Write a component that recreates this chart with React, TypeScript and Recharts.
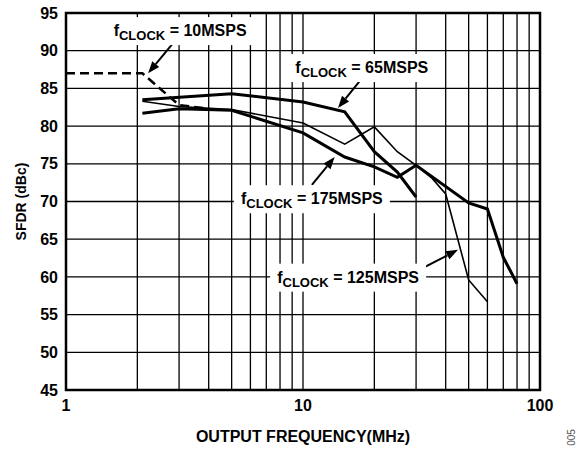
import { LineChart, Line, XAxis, YAxis, CartesianGrid, ReferenceArea, ReferenceDot, ReferenceLine } from "recharts";

// axis ticks
const freqTicks = [1, 2, 3, 4, 5, 6, 7, 8, 9, 10, 20, 30, 40, 50, 60, 70, 80, 90, 100];
const freqLabels = [1, 10, 100];
const sfdrTicks = [45, 50, 55, 60, 65, 70, 75, 80, 85, 90, 95];

// fCLOCK = 10MSPS (dashed)
const freq10 = [1, 2.1, 3, 4];
const sfdr10 = [87, 87, 82.8, 82.3];
// fCLOCK = 65MSPS
const freq65 = [2.1, 5, 10, 15, 20, 25, 30];
const sfdr65 = [83.5, 84.3, 83.2, 81.9, 76.6, 73.9, 70.6];
// fCLOCK = 125MSPS
const freq125 = [2.1, 3, 5, 10, 15, 20, 25, 30, 35, 40, 50, 60];
const sfdr125 = [83.3, 82.6, 82.2, 80.4, 77.6, 79.9, 76.6, 74.8, 73.1, 71.0, 59.6, 56.7];
// fCLOCK = 175MSPS
const freq175 = [2.1, 3, 5, 10, 15, 20, 25, 30, 50, 60, 70, 80];
const sfdr175 = [81.7, 82.3, 82.1, 79.1, 75.9, 74.6, 73.2, 74.8, 69.8, 69.0, 62.6, 59.1];

const toRows = (fs: number[], vs: number[]) => fs.map((f, i) => ({ f, v: vs[i] }));

const FONT = "'Liberation Sans', Arial, sans-serif";

function Callout(props: any) {
  const { cx, cy, value, w } = props;
  return (
    <g>
      <rect x={cx - w / 2} y={cy - 14} width={w} height={28} fill="#fff" />
      <text x={cx} y={cy + 5} textAnchor="middle" fontFamily={FONT} fontWeight="bold" fontSize={16} fill="#000">
        f
        <tspan fontSize={13} dy={4}>CLOCK</tspan>
        <tspan dy={-4}>{` = ${value}`}</tspan>
      </text>
    </g>
  );
}

function Arrow(props: any) {
  const { x1, y1, x2, y2 } = props;
  const dx = x2 - x1;
  const dy = y2 - y1;
  const len = Math.sqrt(dx * dx + dy * dy) || 1;
  const ux = dx / len;
  const uy = dy / len;
  const head = 12;
  const half = 4.5;
  const bx = x2 - ux * head;
  const by = y2 - uy * head;
  return (
    <g>
      <line x1={x1} y1={y1} x2={bx} y2={by} stroke="#000" strokeWidth={2} />
      <polygon
        points={`${x2},${y2} ${bx - uy * half},${by + ux * half} ${bx + uy * half},${by - ux * half}`}
        fill="#000"
      />
    </g>
  );
}

export default function App() {
  return (
    <div style={{ position: "absolute", left: 0, top: 0, width: 581, height: 449, background: "#fff" }}>
      <LineChart width={581} height={449} margin={{ top: 13, right: 41, bottom: 29, left: 26 }}>
        <CartesianGrid stroke="#000" strokeWidth={1.3} verticalValues={freqTicks} horizontalValues={sfdrTicks} />
        <XAxis
          dataKey="f"
          type="number"
          scale="log"
          domain={[1, 100]}
          ticks={freqTicks}
          allowDataOverflow
          interval={0}
          tickFormatter={(v: number) => (freqLabels.includes(v) ? String(v) : "")}
          tickLine={false}
          axisLine={false}
          tickMargin={4}
          height={30}
          tick={{ fill: "#000", fontFamily: FONT, fontWeight: "bold", fontSize: 16 }}
          label={{
            value: "OUTPUT FREQUENCY(MHz)",
            position: "insideBottom",
            offset: -22,
            style: { fill: "#000", fontFamily: FONT, fontWeight: "bold", fontSize: 16 },
          }}
        />
        <YAxis
          type="number"
          domain={[45, 95]}
          ticks={sfdrTicks}
          interval={0}
          width={40}
          tickLine={false}
          axisLine={false}
          tick={{ fill: "#000", fontFamily: FONT, fontWeight: "bold", fontSize: 16 }}
          label={{
            value: "SFDR (dBc)",
            angle: -90,
            position: "insideLeft",
            offset: -5,
            style: { textAnchor: "middle", fill: "#000", fontFamily: FONT, fontWeight: "bold", fontSize: 14 },
          }}
        />

        <ReferenceDot x={3.03} y={92.6} r={0} shape={(p: any) => <Callout {...p} value="10MSPS" w={150} />} />
        <ReferenceDot x={17.7} y={87.7} r={0} shape={(p: any) => <Callout {...p} value="65MSPS" w={146} />} />
        <ReferenceDot x={10.9} y={70.3} r={0} shape={(p: any) => <Callout {...p} value="175MSPS" w={156} />} />
        <ReferenceDot x={15.5} y={59.9} r={0} shape={(p: any) => <Callout {...p} value="125MSPS" w={156} />} />

        <Line data={toRows(freq10, sfdr10)} dataKey="v" stroke="#000" strokeWidth={2.5} strokeDasharray="9 5" dot={false} isAnimationActive={false} />
        <Line data={toRows(freq125, sfdr125)} dataKey="v" stroke="#000" strokeWidth={1.6} dot={false} isAnimationActive={false} />
        <Line data={toRows(freq175, sfdr175)} dataKey="v" stroke="#000" strokeWidth={3} dot={false} isAnimationActive={false} />
        <Line data={toRows(freq65, sfdr65)} dataKey="v" stroke="#000" strokeWidth={3} dot={false} isAnimationActive={false} />

        <ReferenceLine segment={[{ x: 2.83, y: 91.0 }, { x: 2.22, y: 87.0 }]} shape={(p: any) => <Arrow {...p} />} />
        <ReferenceLine segment={[{ x: 17.9, y: 86.5 }, { x: 14.05, y: 82.4 }]} shape={(p: any) => <Arrow {...p} />} />
        <ReferenceLine segment={[{ x: 10.9, y: 72.2 }, { x: 13.6, y: 75.9 }]} shape={(p: any) => <Arrow {...p} />} />
        <ReferenceLine segment={[{ x: 32.1, y: 61.2 }, { x: 45.1, y: 63.6 }]} shape={(p: any) => <Arrow {...p} />} />

        <ReferenceArea x1={1} x2={100} y1={45} y2={95} fill="none" stroke="#000" strokeWidth={2.5} />
      </LineChart>
      <div
        style={{
          position: "absolute",
          left: 563,
          top: 432,
          transform: "rotate(-90deg)",
          fontFamily: FONT,
          fontSize: 10,
          color: "#555",
        }}
      >
        005
      </div>
    </div>
  );
}
